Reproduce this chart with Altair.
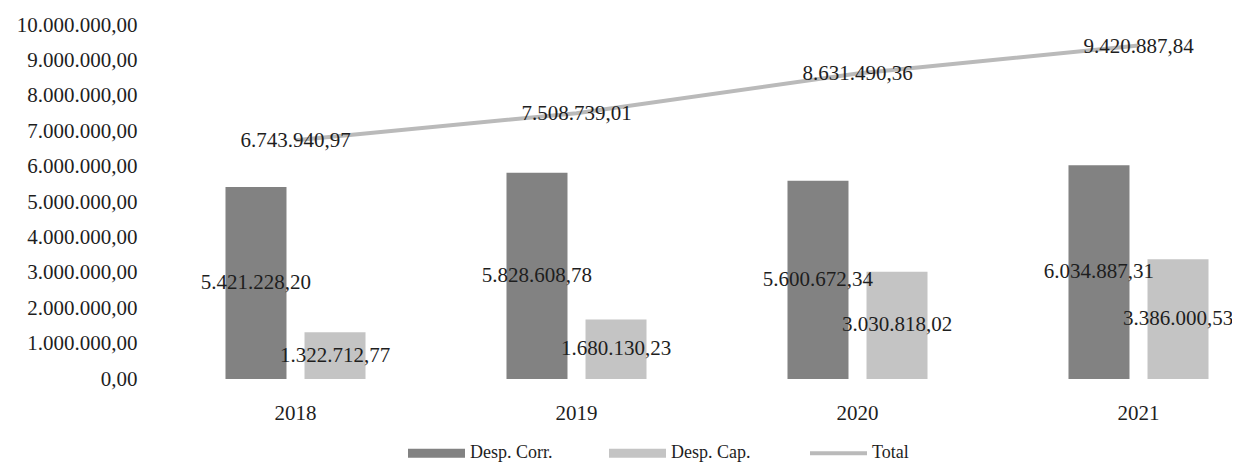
import altair as alt
import pandas as pd

# ---- data ----
years = ["2018", "2019", "2020", "2021"]
desp_corr = [5421228.20, 5828608.78, 5600672.34, 6034887.31]
desp_cap = [1322712.77, 1680130.23, 3030818.02, 3386000.53]
total = [6743940.97, 7508739.01, 8631490.36, 9420887.84]
series_names = ["Desp. Corr.", "Desp. Cap.", "Total"]
series_colors = ["#828282", "#c4c4c4", "#bababa"]
y_ticks = [0, 1000000, 2000000, 3000000, 4000000, 5000000,
           6000000, 7000000, 8000000, 9000000, 10000000]

bars_df = pd.DataFrame({
    "ano": years * 2,
    "serie": [series_names[0]] * len(years) + [series_names[1]] * len(years),
    "valor": desp_corr + desp_cap,
})
line_df = pd.DataFrame({"ano": years, "serie": [series_names[2]] * len(years), "valor": total})

FONT = "Liberation Serif"
TXT = "#1e1e1e"

x_scale = alt.Scale(domain=years, range=[0, 1124], paddingInner=0, paddingOuter=0)
x_axis = alt.Axis(domain=False, ticks=False, labelPadding=23, labelFont=FONT,
                  labelFontSize=21, labelColor=TXT, labelAngle=0, title=None)
x_enc = alt.X("ano:N", sort=years, scale=x_scale, axis=x_axis, title=None)

xoff = alt.XOffset("serie:N", sort=series_names[:2],
                   scale=alt.Scale(domain=series_names[:2], paddingInner=0.228, paddingOuter=0.892))

y_scale = alt.Scale(domain=[0, 10000000], nice=False, zero=True)
y_axis = alt.Axis(values=y_ticks, format=",.2f", domain=False, ticks=False, grid=False,
                  labelPadding=18, labelFont=FONT, labelFontSize=21, labelColor=TXT, title=None)

shape_expr = ("datum.value === 'Total' ? 'M-1,-0.07L1,-0.07L1,0.07L-1,0.07Z' "
              ": 'M-1,-0.16L1,-0.16L1,0.16L-1,0.16Z'")
legend = alt.Legend(
    orient="none", legendX=253, legendY=399.5, direction="horizontal", title=None,
    symbolType={"expr": shape_expr}, symbolSize=3249, symbolStrokeWidth=0,
    symbolOpacity=1, labelFont=FONT, labelFontSize=18, labelColor=TXT,
    labelOffset=5, columnPadding=56, gridAlign="all",
)
color_enc = alt.Color("serie:N", scale=alt.Scale(domain=series_names, range=series_colors),
                      legend=legend)

bars = alt.Chart(bars_df).mark_bar().encode(
    x=x_enc, xOffset=xoff,
    y=alt.Y("valor:Q", scale=y_scale, axis=y_axis, title=None),
    color=color_enc,
)

bar_labels = alt.Chart(bars_df).transform_calculate(
    meio="datum.valor / 2"
).mark_text(font=FONT, fontSize=21, color=TXT, baseline="middle", align="center").encode(
    x=x_enc, xOffset=xoff,
    y=alt.Y("meio:Q", scale=y_scale, axis=y_axis, title=None),
    text=alt.Text("valor:Q", format=",.2f"),
)

line = alt.Chart(line_df).mark_line(strokeWidth=4).encode(
    x=x_enc,
    y=alt.Y("valor:Q", scale=y_scale, axis=y_axis, title=None),
    color=color_enc,
)

line_labels = alt.Chart(line_df).mark_text(
    font=FONT, fontSize=21, color=TXT, baseline="middle", align="center", dy=1
).encode(
    x=x_enc,
    y=alt.Y("valor:Q", scale=y_scale, axis=y_axis, title=None),
    text=alt.Text("valor:Q", format=",.2f"),
)

chart = alt.layer(bars, bar_labels, line, line_labels).properties(
    width=1077, height=354,
    padding={"left": 147, "top": 17, "right": 0, "bottom": 86},
    autosize=alt.AutoSizeParams(type="none"),
).configure(
    locale={"number": {"decimal": ",", "thousands": ".", "grouping": [3], "currency": ["R$", ""]}},
    font=FONT,
).configure_legend(
    labelFont=FONT, labelFontSize=18, labelColor=TXT,
).configure_view(stroke=None)

chart.save("out.html", embed_options={"renderer": "svg", "actions": False})
